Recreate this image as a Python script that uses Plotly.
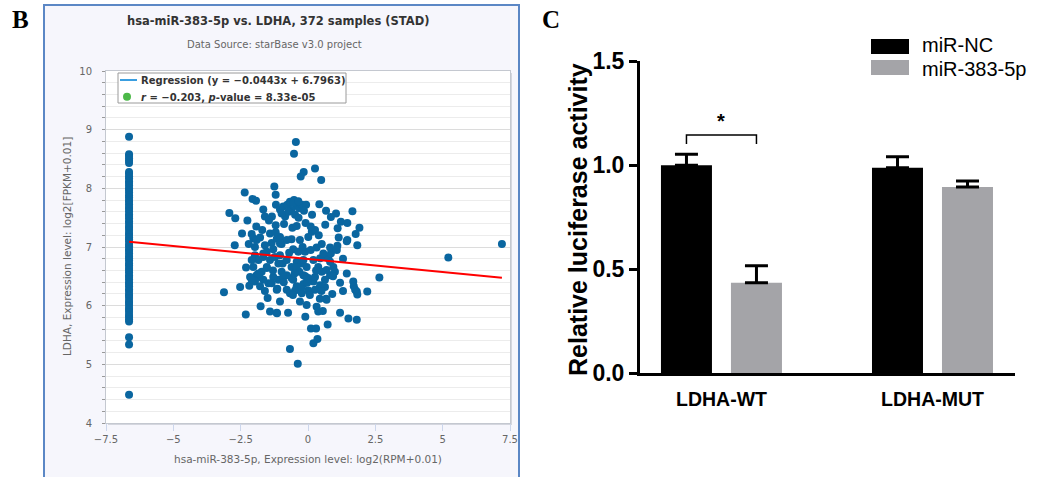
import plotly.graph_objects as go

# ---------------- data: panel B (starBase scatter) ----------------
ZERO_EXPR = -6.644  # log2(0+0.01)
zero_ldha = [8.88, 8.58, 8.55, 8.51, 8.47, 8.43, 8.28, 8.25, 8.2, 8.17, 8.12, 8.09, 8.05, 8.0,
             7.97, 7.93, 7.88, 7.85, 7.8, 7.77, 7.73, 7.68, 7.65, 7.61, 7.56, 7.53, 7.49, 7.44,
             7.41, 7.36, 7.33, 7.29, 7.24, 7.21, 7.16, 7.13, 7.09, 7.04, 7.01, 6.96, 6.93, 6.89,
             6.84, 6.81, 6.77, 6.72, 6.69, 6.64, 6.61, 6.57, 6.52, 6.49, 6.45, 6.4, 6.37, 6.33,
             6.28, 6.25, 6.2, 6.17, 6.13, 6.08, 6.05, 6.01, 5.96, 5.93, 5.89, 5.84, 5.81, 5.77,
             5.73, 5.46, 5.34, 4.48]

mir_expr = [-0.45, -0.52, 0.26, -0.16, -0.27, 0.49, -1.25, -2.35, -1.20, -2.06, -1.93, 0.42, -2.92,
            -2.70, -1.66, -1.60, -1.34, 0.67, 1.04, 0.85, 1.65, 1.22, 1.46, 1.91, 1.10, 0.64, -0.09,
            1.77, 1.46, 1.83, 1.14, -2.45, -2.09, -1.92, -2.72, -1.20, -0.89, -0.58, -0.42, 0.14,
            0.26, -1.70, -2.03,
            -1.19, -1.04, -0.92, -0.77, -0.67, -0.52, -0.42, -0.32, -0.23, -0.07, -0.61, -0.48,
            -0.85, -0.98, -0.55, -0.36, -0.15, -0.72,
            -1.91, -1.78, -1.60, -1.41, -1.35, -1.16, -1.04, -0.98, -1.29, -1.53, -1.97, -1.84,
            -1.66, -2.09, -2.03, -1.91, -1.72, -1.53, -1.41, -1.23, -1.04, -0.94, -0.79, -0.61,
            -0.42, -0.23, -0.32, -0.17, -0.05, 0.20, 0.38, 0.51, 0.59, 0.75, 0.85, 0.94, 1.00,
            0.82, 0.63, 0.45, 0.20, 0.01, -0.17, -0.42, -0.61, -0.79, -0.98, -1.10, -1.29, -1.47,
            -1.66, -1.81, -1.97, -2.15, -1.78, -1.14, -0.79, -0.48, -0.23, 0.01, 0.26, -0.79,
            -0.61, -0.30, 0.01, -0.55, -0.36, -0.11, 0.32, 0.51, 0.82, 1.09,
            -2.52, -2.31, -2.18, -2.09, -1.97, -1.84, -1.76, -1.66, -1.53, -1.50, -1.41, -1.35,
            -1.16, -1.16, -1.04, -1.10, -1.04, -0.92, -0.74, -0.67, -0.67, -0.55, -0.42, -0.30,
            -0.38, -0.17, -0.23, -0.10, -0.05, -0.03, 0.07, 0.11, 0.30, 0.20, 0.35, 0.26, 0.32,
            0.38, 0.55, 0.45, 0.57, 0.63, 0.67, 0.73, 0.69, 0.82, 0.88, 1.07, 1.19, 1.19, 1.44,
            1.50, 1.68, 1.70, 1.81, 1.81, 1.83, 2.20, 2.65, 1.44,
            -3.12, -1.15, 1.75, 0.93, 0.69, 0.44, -0.56,
            -1.30, -0.70, -0.10, 0.30, 0.10, -0.50, -1.20, -0.20, 0.40, -0.90, 0.50, -1.60,
            -2.30, -2.20, 1.30, 1.30, 0.90, 0.10, -0.35, 0.15, -1.45, -2.25,
            5.21, 7.20]
ldha_expr = [8.79, 8.59, 8.34, 8.28, 8.20, 8.14, 8.03, 7.93, 7.89, 7.82, 7.79, 7.73, 7.58,
             7.49, 7.64, 7.52, 7.52, 7.62, 7.57, 7.51, 7.61, 7.43, 7.41, 7.33, 7.32, 7.38, 7.41,
             7.22, 7.12, 7.03, 7.16, 7.23, 7.22, 7.35, 7.03, 7.37, 7.39, 7.33, 7.36, 7.26,
             7.29, 7.29, 7.15,
             7.72, 7.64, 7.69, 7.72, 7.77, 7.80, 7.70, 7.66, 7.72, 7.72, 7.63, 7.55,
             7.52, 7.57, 7.75, 7.78, 7.62, 7.60,
             7.12, 7.16, 7.03, 7.23, 7.07, 7.14, 7.17, 7.05, 6.96, 6.92, 6.86, 6.78,
             6.83, 6.78, 6.66, 6.52, 6.58, 6.64, 6.78, 6.83, 6.86, 6.72, 6.78, 6.66,
             6.75, 6.72, 6.58, 6.52, 6.66, 6.78, 6.66, 6.58, 6.83, 6.81, 6.89, 6.66, 6.58,
             6.52, 6.44, 6.35, 6.41, 6.47, 6.37, 6.33, 6.47, 6.52, 6.58, 6.44, 6.49, 6.38,
             6.44, 6.49, 6.41, 6.49, 6.33, 6.29, 6.27, 6.26, 6.21, 6.26, 6.27, 7.12,
             7.13, 7.12, 7.17, 6.96, 6.92, 6.92, 6.99, 7.05, 6.99, 7.02,
             6.32, 5.85, 6.34, 6.44, 7.00, 6.55, 5.99, 6.89, 6.66, 6.13, 5.90, 6.38,
             5.88, 6.27, 6.07, 6.72, 7.06, 6.49, 5.88, 6.21, 5.26, 6.44, 6.66, 6.07,
             5.01, 6.78, 6.32, 5.81, 6.01, 6.39, 6.18, 5.61, 5.61, 5.36, 5.43, 6.49, 5.98,
             5.90, 5.91, 6.81, 6.89, 6.32, 6.12, 5.68, 6.61, 6.75, 6.52, 6.95, 5.88, 6.39, 6.55,
             5.78, 6.41, 6.33, 6.24, 5.76, 6.19, 6.24, 6.48, 7.10,
             6.23, 5.87, 6.27, 6.50, 6.10, 6.12, 6.18,
             6.60, 6.90, 6.50, 6.60, 6.95, 6.55, 7.25, 7.00, 7.20, 6.40, 6.25, 6.25,
             6.65, 7.05, 6.80, 6.25, 6.20, 7.35, 7.50, 7.55, 7.45, 7.45,
             6.82, 7.05]

reg_slope = -0.0443
reg_intercept = 6.7963
corr_r = -0.203
p_value = "8.33e-05"

# ---------------- data: panel C (luciferase) ----------------
categories = ["LDHA-WT", "LDHA-MUT"]
series_names = ["miR-NC", "miR-383-5p"]
nc_values = [1.00, 0.988]
nc_errors = [0.053, 0.053]
mir_values = [0.435, 0.896]
mir_errors = [0.082, 0.029]
c_yticks = [0.0, 0.5, 1.0, 1.5]
b_xticks = [-7.5, -5, -2.5, 0, 2.5, 5, 7.5]
b_yticks = [4, 5, 6, 7, 8, 9, 10]

# ---------------- layout helpers ----------------
W, H = 1060, 477
def fx(x): return x / W
def fy(y): return 1 - y / H

SANS_B = "DejaVu Sans"
ARIAL = "Liberation Sans"
DOT = "#0a66a0"

fig = go.Figure()

# Panel B traces
all_x = [ZERO_EXPR] * len(zero_ldha) + mir_expr
all_y = zero_ldha + ldha_expr
fig.add_trace(go.Scatter(x=all_x, y=all_y, mode="markers",
                         marker=dict(size=8, color=DOT, line=dict(width=0)),
                         xaxis="x", yaxis="y", showlegend=False, hoverinfo="skip"))
rx = [min(all_x), max(all_x)]
ry = [reg_slope * v + reg_intercept for v in rx]
fig.add_trace(go.Scatter(x=rx, y=ry, mode="lines", line=dict(color="#ff0000", width=2),
                         xaxis="x", yaxis="y", showlegend=False, hoverinfo="skip"))

# Panel C traces
BAR_W = 0.2417
fig.add_trace(go.Bar(x=list(range(len(categories))), y=nc_values, name=series_names[0],
                     marker=dict(color="#000000", line=dict(width=0)),
                     width=BAR_W, offset=-0.2867,
                     error_y=dict(type="data", array=nc_errors, arrayminus=[0] * len(nc_errors),
                                  symmetric=False, thickness=3, width=11.5, color="#000000"),
                     xaxis="x2", yaxis="y2", showlegend=False))
fig.add_trace(go.Bar(x=list(range(len(categories))), y=mir_values, name=series_names[1],
                     marker=dict(color="#a4a4a8", line=dict(width=0)),
                     width=BAR_W, offset=0.045,
                     error_y=dict(type="data", array=mir_errors, arrayminus=[0] * len(mir_errors),
                                  symmetric=False, thickness=3, width=11.5, color="#000000"),
                     xaxis="x2", yaxis="y2", showlegend=False))

shapes = [
    # panel B frame
    dict(type="rect", xref="paper", yref="paper", x0=fx(44), x1=fx(519), y0=-0.02, y1=fy(5),
         fillcolor="#f6f6fc", line=dict(color="#5b87c5", width=2), layer="below"),
    # subtle shadow of the plot area
    dict(type="rect", xref="paper", yref="paper", x0=fx(108), x1=fx(512), y0=fy(425), y1=fy(73),
         fillcolor="#d4d6de", line=dict(width=0), layer="below"),
    dict(type="rect", xref="paper", yref="paper", x0=fx(106), x1=fx(510), y0=fy(423), y1=fy(71),
         fillcolor="#ffffff", line=dict(width=0), layer="below"),
    # B legend
    dict(type="rect", xref="paper", yref="paper", x0=fx(118), x1=fx(346), y0=fy(103), y1=fy(73),
         fillcolor="#ffffff", line=dict(color="#9a9a9a", width=1), layer="above"),
    dict(type="line", xref="paper", yref="paper", x0=fx(120), x1=fx(137), y0=fy(80), y1=fy(80),
         line=dict(color="#3a9ee0", width=2), layer="above"),
    dict(type="circle", xref="paper", yref="paper", x0=fx(123), x1=fx(131), y0=fy(100.7), y1=fy(92.7),
         fillcolor="#4cb848", line=dict(width=0), layer="above"),
    # C legend swatches
    dict(type="rect", xref="paper", yref="paper", x0=fx(871), x1=fx(909), y0=fy(54), y1=fy(39),
         fillcolor="#000000", line=dict(width=0)),
    dict(type="rect", xref="paper", yref="paper", x0=fx(871), x1=fx(909), y0=fy(75), y1=fy(60),
         fillcolor="#a4a4a8", line=dict(width=0)),
]
# significance bracket over LDHA-WT (bar centres)
c_left = -0.2867 + BAR_W / 2
c_right = 0.045 + BAR_W / 2
br_top, br_bot = 1.146, 1.103
shapes.append(dict(type="path", xref="x2", yref="y2",
                   path=f"M {c_left},{br_bot} L {c_left},{br_top} L {c_right},{br_top} L {c_right},{br_bot}",
                   line=dict(color="#000000", width=1.5)))

annotations = [
    dict(text="<b>B</b>", x=fx(20), y=fy(19), xref="paper", yref="paper", showarrow=False,
         font=dict(family="Liberation Serif", size=25, color="#000"), xanchor="center", yanchor="middle"),
    dict(text="<b>hsa-miR-383-5p vs. LDHA, 372 samples (STAD)</b>", x=fx(278), y=fy(21),
         xref="paper", yref="paper", showarrow=False,
         font=dict(family=SANS_B, size=11.5, color="#333333"), xanchor="center", yanchor="middle"),
    dict(text="Data Source: starBase v3.0 project", x=fx(274), y=fy(45), xref="paper", yref="paper",
         showarrow=False, font=dict(family=SANS_B, size=10, color="#666666"),
         xanchor="center", yanchor="middle"),
    dict(text="LDHA, Expression level: log2[FPKM+0.01]", x=fx(67), y=fy(247), xref="paper", yref="paper",
         showarrow=False, textangle=-90, font=dict(family=SANS_B, size=10.5, color="#666666"),
         xanchor="center", yanchor="middle"),
    dict(text="hsa-miR-383-5p, Expression level: log2(RPM+0.01)", x=fx(308), y=fy(459),
         xref="paper", yref="paper", showarrow=False,
         font=dict(family=SANS_B, size=10.5, color="#666666"), xanchor="center", yanchor="middle"),
    dict(text=f"<b>Regression (y = −{abs(reg_slope)}x + {reg_intercept})</b>", x=fx(139), y=fy(80),
         xref="paper", yref="paper", showarrow=False,
         font=dict(family=SANS_B, size=10, color="#333333"), xanchor="left", yanchor="middle"),
    dict(text=f"<b><i>r</i> = −{abs(corr_r)}, <i>p</i>-value = {p_value}</b>", x=fx(139), y=fy(97),
         xref="paper", yref="paper", showarrow=False,
         font=dict(family=SANS_B, size=10, color="#333333"), xanchor="left", yanchor="middle"),
    # panel C
    dict(text="<b>C</b>", x=fx(551), y=fy(20), xref="paper", yref="paper", showarrow=False,
         font=dict(family="Liberation Serif", size=25, color="#000"), xanchor="center", yanchor="middle"),
    dict(text="<b>Relative luciferase activity</b>", x=fx(578), y=fy(220), xref="paper", yref="paper",
         showarrow=False, textangle=-90, font=dict(family=ARIAL, size=25, color="#000"),
         xanchor="center", yanchor="middle"),
    dict(text=series_names[0], x=fx(920), y=fy(45.5), xref="paper", yref="paper", showarrow=False,
         font=dict(family=ARIAL, size=20, color="#000"), xanchor="left", yanchor="middle"),
    dict(text=series_names[1], x=fx(920), y=fy(69.5), xref="paper", yref="paper", showarrow=False,
         font=dict(family=ARIAL, size=20, color="#000"), xanchor="left", yanchor="middle"),
    dict(text="<b>*</b>", x=(c_left + c_right) / 2, y=br_top, xref="x2", yref="y2", showarrow=False,
         font=dict(family=ARIAL, size=20, color="#000"), xanchor="center", yanchor="bottom", yshift=1),
]

fig.update_layout(
    width=W, height=H, autosize=False,
    margin=dict(l=0, r=0, t=0, b=0, pad=0),
    paper_bgcolor="#ffffff", plot_bgcolor="#ffffff",
    showlegend=False, barmode="group",
    shapes=shapes, annotations=annotations,
    xaxis=dict(domain=[fx(106), fx(510)], range=[-7.5, 7.5], tickvals=b_xticks,
               ticktext=["−7.5", "−5", "−2.5", "0", "2.5", "5", "7.5"], automargin=False,
               showgrid=False, zeroline=False, showline=True, linecolor="#c4c8d0", linewidth=1,
               mirror=True, ticks="outside", ticklen=7, tickcolor="#ccd6eb", tickwidth=1,
               tickfont=dict(family=SANS_B, size=10, color="#666666"), anchor="y", fixedrange=True),
    yaxis=dict(domain=[fy(423), fy(71)], range=[4, 10], tickvals=b_yticks, automargin=False,
               showgrid=True, gridcolor="#dcdcdc", gridwidth=1, zeroline=False,
               showline=True, linecolor="#c4c8d0", linewidth=1, mirror=True,
               ticks="outside", ticklen=3, tickcolor="#999999",
               minor=dict(dtick=0.2, showgrid=True, gridcolor="#ececec", ticks="outside",
                          ticklen=3, tickcolor="#999999"),
               ticklabelstandoff=8,
               tickfont=dict(family=SANS_B, size=10, color="#666666"), anchor="x", fixedrange=True),
    xaxis2=dict(domain=[fx(640), fx(1015)], range=[-0.386, 1.391], automargin=False,
                tickvals=list(range(len(categories))), ticktext=[f"<b>{c}</b>" for c in categories],
                showgrid=False, zeroline=False, showline=True, linecolor="#000", linewidth=3,
                ticks="", ticklabelstandoff=6,
                tickfont=dict(family=ARIAL, size=19.5, color="#000"), anchor="y2", fixedrange=True),
    yaxis2=dict(domain=[fy(373.3), fy(61.3)], range=[0, 1.5], tickvals=c_yticks, automargin=False,
                ticktext=[f"<b>{v:.1f}</b>" for v in c_yticks],
                showgrid=False, zeroline=False, showline=True, linecolor="#000", linewidth=3,
                ticks="outside", ticklen=8, tickwidth=3, tickcolor="#000",
                tickfont=dict(family=ARIAL, size=23, color="#000"), anchor="x2", fixedrange=True),
)

fig.write_html("out.html")
